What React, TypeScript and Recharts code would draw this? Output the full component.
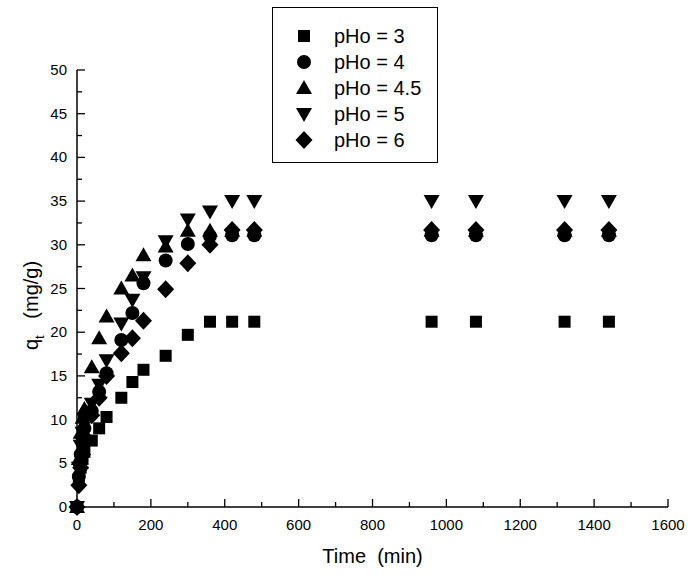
import React from 'react';
import { ScatterChart, Scatter, XAxis, YAxis, Legend } from 'recharts';

const times = [0, 5, 10, 15, 20, 40, 60, 80, 120, 150, 180, 240, 300, 360, 420, 480, 960, 1080, 1320, 1440];
const qPh3 = [0, 3, 4.5, 5.5, 6.3, 7.6, 9.0, 10.3, 12.5, 14.3, 15.7, 17.3, 19.7, 21.2, 21.2, 21.2, 21.2, 21.2, 21.2, 21.2];
const qPh4 = [0, 3.5, 6, 7.5, 9, 11, 13.2, 15.3, 19.1, 22.2, 25.6, 28.2, 30.1, 31.0, 31.1, 31.1, 31.1, 31.1, 31.1, 31.1];
const qPh45 = [0, 5.5, 8.5, 10.2, 11.2, 16.0, 19.3, 21.8, 25.0, 26.5, 28.8, 29.8, 31.6, 31.6, 31.6, 31.6, 31.6, 31.6, 31.6, 31.6];
const qPh5 = [0, 4.5, 7, 8.5, 10, 11.8, 14.0, 16.8, 21.0, 23.7, 26.3, 30.4, 32.9, 33.8, 35, 35, 35, 35, 35, 35];
const qPh6 = [0, 2.5, 4.5, 6, 8, 10.5, 12.5, 15.0, 17.6, 19.3, 21.3, 24.9, 27.9, 30.0, 31.7, 31.7, 31.7, 31.7, 31.7, 31.7];

const seriesNames = ['pHo = 3', 'pHo = 4', 'pHo = 4.5', 'pHo = 5', 'pHo = 6'];
const xTicks = [0, 100, 200, 300, 400, 500, 600, 700, 800, 900, 1000, 1100, 1200, 1300, 1400, 1500, 1600];
const yTicks = [0, 2.5, 5, 7.5, 10, 12.5, 15, 17.5, 20, 22.5, 25, 27.5, 30, 32.5, 35, 37.5, 40, 42.5, 45, 47.5, 50];

const font = '"Liberation Sans", Arial, sans-serif';

const toPoints = (vals: number[]) => times.map((t, i) => ({ t, q: vals[i] }));

// marker drawing, one per series
const drawMarker = (kind: string, cx: number, cy: number) => {
  switch (kind) {
    case 'square':
      return <rect x={cx - 6} y={cy - 6} width={12} height={12} fill="#000" />;
    case 'circle':
      return <circle cx={cx} cy={cy} r={7} fill="#000" />;
    case 'up':
      return <polygon points={`${cx},${cy - 8} ${cx - 8},${cy + 6} ${cx + 8},${cy + 6}`} fill="#000" />;
    case 'down':
      return <polygon points={`${cx},${cy + 8} ${cx - 8},${cy - 6} ${cx + 8},${cy - 6}`} fill="#000" />;
    default:
      return <polygon points={`${cx},${cy - 9} ${cx + 8.5},${cy} ${cx},${cy + 9} ${cx - 8.5},${cy}`} fill="#000" />;
  }
};

const markerKinds = ['square', 'circle', 'up', 'down', 'diamond'];

const shapeFor = (kind: string) => (props: any) => drawMarker(kind, props.cx, props.cy);

const XTick = (props: any) => {
  const { x, y, payload } = props;
  const major = payload.value % 200 === 0;
  return (
    <g>
      <line x1={x} y1={y} x2={x} y2={y - (major ? 8 : 5)} stroke="#000" strokeWidth={1.3} />
      {major && (
        <text x={x} y={y + 23} textAnchor="middle" fontSize={15} fontFamily={font} fill="#000">
          {payload.value}
        </text>
      )}
    </g>
  );
};

const YTick = (props: any) => {
  const { x, y, payload } = props;
  const major = payload.value % 5 === 0;
  return (
    <g>
      <line x1={x} y1={y} x2={x + (major ? 8 : 5)} y2={y} stroke="#000" strokeWidth={1.3} />
      {major && (
        <text x={x - 10} y={y + 5} textAnchor="end" fontSize={15} fontFamily={font} fill="#000">
          {payload.value}
        </text>
      )}
    </g>
  );
};

const XTitle = ({ viewBox }: any) => (
  <text x={viewBox.x + viewBox.width / 2} y={viewBox.y + 56} textAnchor="middle" fontSize={20} fontFamily={font} fill="#000">
    {'Time\u00a0\u00a0(min)'}
  </text>
);

const YTitle = ({ viewBox }: any) => {
  const cx = viewBox.x + 21;
  const cy = viewBox.y + viewBox.height / 2 + 17;
  return (
    <text x={cx} y={cy} transform={`rotate(-90, ${cx}, ${cy})`} textAnchor="middle" fontSize={20} fontFamily={font} fill="#000">
      q<tspan dy={6} fontSize={13}>t</tspan>
      <tspan dy={-6}>{'\u00a0\u00a0\u00a0(mg/g)'}</tspan>
    </text>
  );
};

const LegendBox = ({ payload }: any) => (
  <div
    style={{
      border: '1.5px solid #000',
      width: 166,
      height: 156,
      boxSizing: 'border-box',
      paddingTop: 15,
      background: '#fff',
      fontFamily: font,
      fontSize: 20,
    }}
  >
    {(payload || []).map((entry: any, i: number) => (
      <div key={entry.value} style={{ display: 'flex', alignItems: 'center', height: 26 }}>
        <svg width={20} height={20} style={{ marginLeft: 21 }}>
          {drawMarker(markerKinds[i], 10, 10)}
        </svg>
        <span style={{ marginLeft: 20, lineHeight: '26px' }}>{entry.value}</span>
      </div>
    ))}
  </div>
);

const seriesValues = [qPh3, qPh4, qPh45, qPh5, qPh6];

export default function App() {
  return (
    <div style={{ position: 'absolute', left: 0, top: 0, width: 688, height: 576, background: '#fff' }}>
      <ScatterChart width={688} height={576} margin={{ top: 70, right: 20, bottom: 39, left: 17 }}>
        <XAxis
          type="number"
          dataKey="t"
          domain={[0, 1600]}
          ticks={xTicks}
          interval={0}
          height={30}
          tickSize={0}
          tickMargin={0}
          tickLine={false}
          tick={<XTick />}
          axisLine={{ stroke: '#000', strokeWidth: 1.5 }}
          label={{ content: XTitle }}
        />
        <YAxis
          type="number"
          dataKey="q"
          domain={[0, 50]}
          ticks={yTicks}
          interval={0}
          width={60}
          tickSize={0}
          tickMargin={0}
          tickLine={false}
          tick={<YTick />}
          axisLine={{ stroke: '#000', strokeWidth: 1.5 }}
          label={{ content: YTitle }}
        />
        <Legend
          layout="vertical"
          align="center"
          verticalAlign="middle"
          content={LegendBox}
          wrapperStyle={{ left: 272, top: 7, width: 166 }}
        />
        {seriesNames.map((name, i) => (
          <Scatter
            key={name}
            name={name}
            data={toPoints(seriesValues[i])}
            fill="#000"
            shape={shapeFor(markerKinds[i])}
            isAnimationActive={false}
          />
        ))}
      </ScatterChart>
    </div>
  );
}
